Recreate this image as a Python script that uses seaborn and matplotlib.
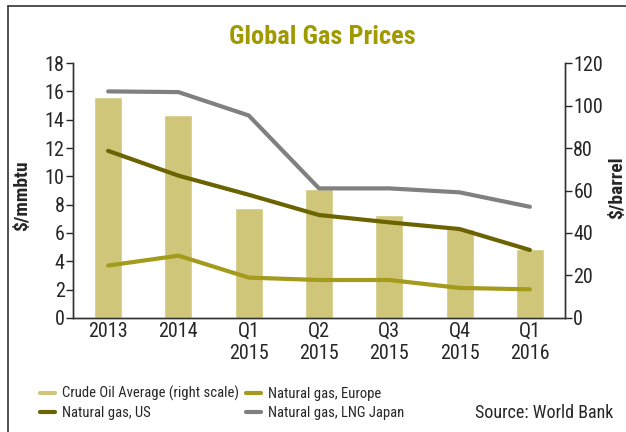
import matplotlib
matplotlib.use('Agg')
import matplotlib.pyplot as plt
import seaborn as sns
import pandas as pd
from matplotlib.lines import Line2D

periods = ['2013', '2014', 'Q1\n2015', 'Q2\n2015', 'Q3\n2015', 'Q4\n2015', 'Q1\n2016']
crude_oil = [104, 95.5, 52, 60.5, 48.5, 42, 32.5]
gas_us = [11.8, 10.05, 8.7, 7.27, 6.75, 6.28, 4.8]
gas_europe = [3.7, 4.4, 2.85, 2.68, 2.68, 2.12, 2.02]
gas_japan = [16.0, 15.95, 14.3, 9.15, 9.15, 8.87, 7.85]

c_bar = '#cfc67a'
c_eu = '#a49a1c'
c_us = '#6b6200'
c_jp = '#808080'

sns.set_style('white')
plt.rcParams['font.family'] = ['Liberation Sans Narrow', 'Roboto Condensed',
                               'DejaVu Sans Condensed', 'Roboto', 'DejaVu Sans']

df = pd.DataFrame({'period': periods, 'oil': crude_oil, 'us': gas_us,
                   'eu': gas_europe, 'jp': gas_japan})

fig = plt.figure(figsize=(6.26, 4.32), dpi=100)
ax = fig.add_axes([0.1166, 0.264, 0.786, 0.59])
ax2 = ax.twinx()

sns.barplot(data=df, x='period', y='oil', color=c_bar, width=0.4, ax=ax2,
            saturation=1)
sns.lineplot(data=df, x='period', y='eu', color=c_eu, lw=3, ax=ax, sort=False)
sns.lineplot(data=df, x='period', y='us', color=c_us, lw=3, ax=ax, sort=False)
sns.lineplot(data=df, x='period', y='jp', color=c_jp, lw=3, ax=ax, sort=False)

ax.set_zorder(ax2.get_zorder() + 1)
ax.patch.set_visible(False)

ax.set_ylim(0, 18)
ax.set_yticks(range(0, 19, 2))
ax2.set_ylim(0, 120)
ax2.set_yticks(range(0, 121, 20))
ax.set_xlim(-0.5, 6.5)

ax.set_xticks([i + 0.5 for i in range(-1, 7)])
ax.set_xticklabels([])
ax.set_xticks(range(7), minor=True)
ax.set_xticklabels(periods, minor=True)
ax.tick_params(axis='x', which='major', length=5, width=1, direction='out', bottom=True)
ax.tick_params(axis='x', which='minor', length=0, labelsize=14.5, pad=3)
ax.tick_params(axis='y', length=5, width=1, direction='out', left=True, labelsize=14.5, pad=1)
ax2.tick_params(axis='y', length=5, width=1, direction='out', right=True, labelsize=14.5, pad=1)
ax2.set_xticks([])

for a in (ax, ax2):
    a.spines['top'].set_visible(False)
    for s in ('left', 'right', 'bottom'):
        a.spines[s].set_color('#333333')
        a.spines[s].set_linewidth(1)

ax.set_xlabel('')
ax.set_ylabel('$/mmbtu', fontsize=14, fontweight='bold')
ax2.set_ylabel('$/barrel', fontsize=14, fontweight='bold')
ax.yaxis.set_label_coords(-0.085, 0.48)
ax2.yaxis.set_label_coords(1.087, 0.51)

fig.text(0.515, 0.915, 'Global Gas Prices', ha='center', va='center',
         fontsize=19, fontweight='bold', color='#a09a00')

handles = [Line2D([], [], color=c_bar, lw=3), Line2D([], [], color=c_us, lw=3),
           Line2D([], [], color=c_eu, lw=3), Line2D([], [], color=c_jp, lw=3)]
labels = ['Crude Oil Average (right scale)', 'Natural gas, US',
          'Natural gas, Europe', 'Natural gas, LNG Japan']
fig.legend(handles, labels, ncol=2, loc='upper left', bbox_to_anchor=(0.055, 0.12),
           frameon=False, fontsize=10.5, handlelength=1.0, handletextpad=0.5,
           columnspacing=0.5, labelspacing=0.35, borderaxespad=0)

fig.text(0.98, 0.045, 'Source: World Bank', ha='right', va='center', fontsize=13)

fig.add_artist(Line2D([0.013, 0.013], [0.0, 0.985], color='#333333', lw=1.2,
                      transform=fig.transFigure))
fig.add_artist(Line2D([0.013, 1.0], [0.985, 0.985], color='#333333', lw=1.2,
                      transform=fig.transFigure))

fig.savefig('out.png', dpi=100)
